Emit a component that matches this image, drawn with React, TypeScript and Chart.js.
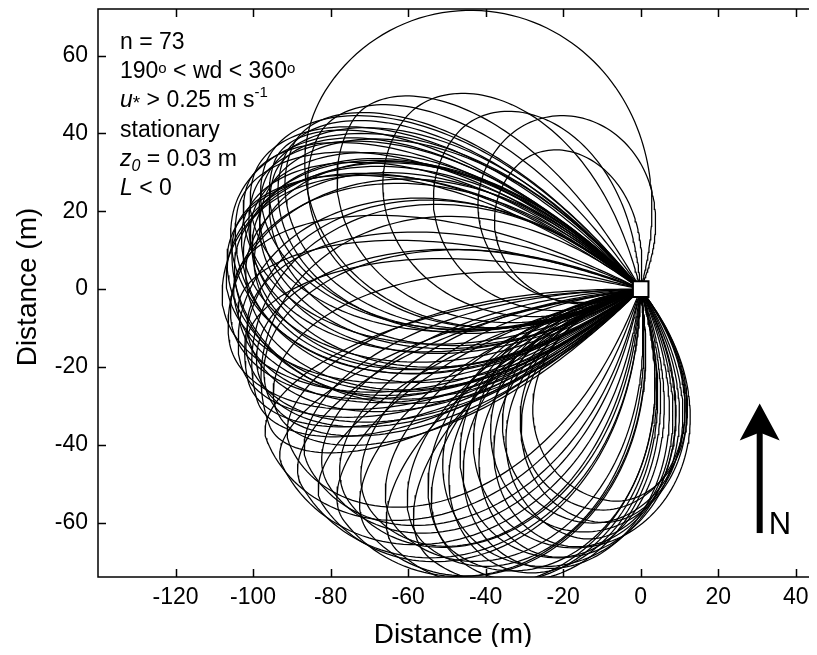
import React, { useEffect, useRef } from "react";
import { Chart, registerables } from "chart.js";

Chart.register(...registerables);

const FONT = '"Liberation Sans", Arial, Helvetica, sans-serif';

const X_TICKS = [-120, -100, -80, -60, -40, -20, 0, 20, 40];
const Y_TICKS = [-60, -40, -20, 0, 20, 40, 60];
const X_MIN = -140;
const X_MAX = 46;
const Y_MIN = -74;
const Y_MAX = 72;

// footprint loops: pointing direction (deg, math convention), length (m),
// spread toward clockwise side (deg), spread toward counter-clockwise side (deg)
const LOOP_DIR = [
  148, 130, 150, 145, 155, 140, 158, 135,
  160, 161, 162, 163, 164, 165, 166, 167, 168, 169, 170, 170, 171, 172, 173, 174, 175, 175, 176, 177,
  178, 180, 181, 183, 184, 186, 187, 189, 190, 192, 193, 195, 196, 198, 200,
  202, 204, 206, 208, 210, 212, 214, 216, 218, 220, 222, 225, 227, 230, 232, 235,
  238, 240, 242, 244, 245, 247, 248, 250, 251, 253, 255, 256, 258, 261,
];
const LOOP_LEN = [
  96, 52, 86, 75, 92, 62, 97, 45,
  98, 100, 102, 99, 104, 101, 105, 103, 100, 106, 102, 107, 104, 101, 106, 103, 107, 100, 105, 102,
  107, 105, 108, 104, 106, 102, 107, 103, 105, 101, 104, 100, 103, 99, 102,
  104, 99, 103, 97, 101, 95, 99, 93, 97, 90, 94, 88, 92, 86, 88, 83,
  84, 78, 80, 74, 77, 70, 73, 65, 69, 62, 66, 58, 61, 55,
];
const LOOP_CW = [
  72, 62, 30, 40, 30, 45, 28, 50,
  28, 24, 32, 26, 30, 34, 27, 31, 36, 29, 33, 38, 30, 35, 28, 37, 32, 40, 34, 38,
  40, 26, 46, 22, 44, 30, 50, 24, 48, 32, 52, 36, 55, 30, 56,
  20, 24, 18, 26, 22, 28, 20, 30, 24, 32, 26, 30, 24, 32, 28, 34,
  44, 50, 46, 54, 48, 58, 50, 60, 52, 62, 56, 60, 58, 64,
];
const LOOP_CCW = [
  58, 72, 55, 60, 50, 65, 46, 70,
  45, 42, 40, 46, 38, 44, 40, 48, 42, 50, 38, 45, 40, 42, 52, 40, 44, 38, 46, 42,
  36, 38, 34, 36, 32, 35, 30, 33, 28, 30, 26, 28, 24, 26, 22,
  50, 44, 56, 48, 58, 46, 54, 50, 60, 44, 56, 50, 58, 46, 54, 50,
  50, 58, 44, 56, 48, 60, 42, 56, 46, 52, 40, 50, 44, 46,
];

const SENSOR = [{ x: 0, y: 0 }];
const ARROW_X = 30.7;
const ARROW_TOP = -29.4;
const ARROW_BOTTOM = -62.7;

const SHAPE_EXP = 0.75;
const TICK_LEN = 8;

function loopPoints(dir: number, len: number, cw: number, ccw: number) {
  const pts: { x: number; y: number }[] = [];
  const N = 90;
  const rad = Math.PI / 180;
  const push = (d: number, spread: number) => {
    const c = Math.max(0, Math.cos((d / spread) * (Math.PI / 2)));
    const r = len * Math.pow(c, SHAPE_EXP);
    const ang = (dir + d) * rad;
    pts.push({ x: r * Math.cos(ang), y: r * Math.sin(ang) });
  };
  for (let i = 0; i <= N; i++) {
    const d = -cw * Math.cos((i / N) * (Math.PI / 2));
    push(d, cw);
  }
  for (let i = 1; i <= N; i++) {
    const d = ccw * Math.sin((i / N) * (Math.PI / 2));
    push(d, ccw);
  }
  return pts;
}

type Seg = { t: string; size: number; italic?: boolean; dy?: number };

const ANNOTATION: Seg[][] = [
  [{ t: "n = 73", size: 23 }],
  [
    { t: "190", size: 23 },
    { t: "o", size: 15, dy: -5 },
    { t: " < wd < 360", size: 23 },
    { t: "o", size: 15, dy: -5 },
  ],
  [
    { t: "u", size: 23, italic: true },
    { t: "*", size: 19, dy: 1.5 },
    { t: " > 0.25 m s", size: 23 },
    { t: "-1", size: 15, dy: -10 },
  ],
  [{ t: "stationary", size: 23 }],
  [
    { t: "z", size: 23, italic: true },
    { t: "0", size: 16, italic: true, dy: 5 },
    { t: " = 0.03 m", size: 23 },
  ],
  [
    { t: "L", size: 23, italic: true },
    { t: " < 0", size: 23 },
  ],
];

const decorPlugin = {
  id: "decor",
  afterDraw(chart: any) {
    const { ctx, chartArea: a, scales } = chart;
    const xs = scales.x;
    const ys = scales.y;
    ctx.save();
    ctx.strokeStyle = "#000";
    ctx.lineWidth = 1.5;
    ctx.strokeRect(a.left, a.top, a.right - a.left, a.bottom - a.top);
    ctx.beginPath();
    for (const v of X_TICKS) {
      const px = Math.round(xs.getPixelForValue(v)) + 0.5;
      ctx.moveTo(px, a.bottom);
      ctx.lineTo(px, a.bottom - TICK_LEN);
      ctx.moveTo(px, a.top);
      ctx.lineTo(px, a.top + TICK_LEN);
    }
    for (const v of Y_TICKS) {
      const py = Math.round(ys.getPixelForValue(v)) + 0.5;
      ctx.moveTo(a.left, py);
      ctx.lineTo(a.left + TICK_LEN, py);
      ctx.moveTo(a.right, py);
      ctx.lineTo(a.right - TICK_LEN, py);
    }
    ctx.stroke();

    // axis titles
    ctx.fillStyle = "#000";
    ctx.font = `28px ${FONT}`;
    ctx.textAlign = "center";
    ctx.textBaseline = "middle";
    ctx.fillText("Distance (m)", 445, 627);
    ctx.save();
    ctx.translate(20, 279);
    ctx.rotate(-Math.PI / 2);
    ctx.fillText("Distance (m)", 0, 0);
    ctx.restore();

    // annotation block
    ctx.textAlign = "left";
    ctx.textBaseline = "alphabetic";
    const x0 = a.left + 22;
    let base = a.top + 40;
    for (const line of ANNOTATION) {
      let x = x0;
      for (const s of line) {
        ctx.font = `${s.italic ? "italic " : ""}${s.size}px ${FONT}`;
        ctx.fillText(s.t, x, base + (s.dy || 0));
        x += ctx.measureText(s.t).width;
      }
      base += 29.2;
    }

    // north arrow
    const ax = xs.getPixelForValue(ARROW_X);
    const tipY = ys.getPixelForValue(ARROW_TOP);
    const botY = ys.getPixelForValue(ARROW_BOTTOM);
    ctx.fillRect(ax - 3, tipY + 28, 6, botY - tipY - 28);
    ctx.beginPath();
    ctx.moveTo(ax, tipY);
    ctx.lineTo(ax + 20, tipY + 37);
    ctx.lineTo(ax, tipY + 29);
    ctx.lineTo(ax - 20, tipY + 37);
    ctx.closePath();
    ctx.fill();
    ctx.font = `31px ${FONT}`;
    ctx.fillText("N", ax + 9, botY + 1);
    ctx.restore();
  },
};

const zeroPad = (s: any) => {
  s.paddingTop = 0;
  s.paddingBottom = 0;
  s.paddingLeft = 0;
  s.paddingRight = 0;
};

export default function App() {
  const ref = useRef<HTMLCanvasElement | null>(null);
  useEffect(() => {
    if (!ref.current) return;
    document.body.style.overflow = "hidden";
    const loops = LOOP_DIR.map((d, i) => ({
      type: "scatter" as const,
      data: loopPoints(d, LOOP_LEN[i], LOOP_CW[i], LOOP_CCW[i]),
      showLine: true,
      borderColor: "#000",
      borderWidth: 1.25,
      pointRadius: 0,
      fill: false,
      order: 1,
    }));
    const chart = new Chart(ref.current, {
      type: "scatter",
      data: {
        datasets: [
          {
            data: SENSOR,
            pointStyle: "rect",
            pointRadius: 11,
            pointBackgroundColor: "#fff",
            pointBorderColor: "#000",
            pointBorderWidth: 2,
            order: 0,
          } as any,
          ...loops,
        ],
      },
      options: {
        animation: false,
        responsive: false,
        devicePixelRatio: 1,
        events: [],
        layout: { autoPadding: false, padding: { top: 1, right: 2, left: 0, bottom: 0 } },
        plugins: { legend: { display: false }, tooltip: { enabled: false } },
        scales: {
          x: {
            type: "linear",
            min: X_MIN,
            max: X_MAX,
            afterBuildTicks: (s: any) => {
              s.ticks = X_TICKS.map((v) => ({ value: v }));
            },
            afterFit: (s: any) => {
              s.height = 78;
              zeroPad(s);
            },
            grid: { display: false, drawTicks: false },
            border: { display: false },
            ticks: {
              color: "#000",
              font: { family: FONT, size: 23 },
              padding: 7,
              maxRotation: 0,
              autoSkip: false,
            },
          },
          y: {
            type: "linear",
            min: Y_MIN,
            max: Y_MAX,
            afterBuildTicks: (s: any) => {
              s.ticks = Y_TICKS.map((v) => ({ value: v }));
            },
            afterFit: (s: any) => {
              s.width = 90;
              zeroPad(s);
            },
            grid: { display: false, drawTicks: false },
            border: { display: false },
            ticks: {
              color: "#000",
              font: { family: FONT, size: 23 },
              padding: 10,
              autoSkip: false,
            },
          },
        },
      },
      plugins: [decorPlugin],
    });
    return () => chart.destroy();
  }, []);
  return (
    <div style={{ width: 809, height: 647, overflow: "hidden", marginBottom: -8 }}>
      <canvas ref={ref} width={813} height={647} style={{ display: "block", width: 813, height: 647 }} />
    </div>
  );
}
